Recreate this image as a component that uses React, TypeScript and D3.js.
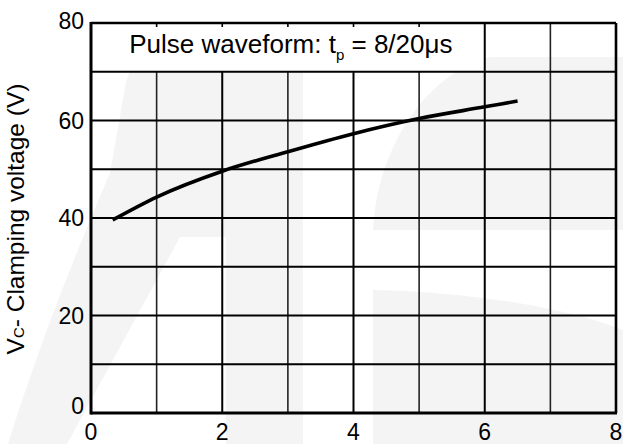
import React from 'react';
import * as d3 from 'd3';

// Data
const xValues = [0.33, 1, 2, 3, 4, 5, 6, 6.5];
const yValues = [39.6, 44.3, 49.6, 53.6, 57.3, 60.4, 62.8, 64.0];
const xTickLabels = [0, 2, 4, 6, 8];
const yTickLabels = [0, 20, 40, 60, 80];
const xGridValues = [1, 2, 3, 4, 5, 6, 7];
const yGridValues = [10, 20, 30, 40, 50, 60, 70];

// Decorative background watermark (pixel space)
const WATERMARK = [
  'M8 444 C35 360 60 290 110 173 L126 82 Q132 60 152 60 L303 60 L303 444 L226 444 L226 237 L180 237 L67 444 Z',
  'M373 230 C375 170 410 80 490 57 L623 57 L623 230 Z',
  'M373 290 C460 292 560 305 623 330 L623 444 L373 444 Z',
];

const W = 623;
const H = 444;
const M = { left: 91, right: 616, top: 23, bottom: 413 };
const FONT = '"Liberation Sans", Arial, Helvetica, sans-serif';

export default function App() {
  const x = d3.scaleLinear().domain([0, 8]).range([M.left, M.right]);
  const y = d3.scaleLinear().domain([0, 80]).range([M.bottom, M.top]);
  const pts: [number, number][] = xValues.map((v, i) => [v, yValues[i]]);
  const line = d3
    .line<[number, number]>()
    .x((d) => x(d[0]))
    .y((d) => y(d[1]))
    .curve(d3.curveMonotoneX);

  return (
    <svg
      width={W}
      height={H}
      style={{ position: 'absolute', left: 0, top: 0, background: '#fff' }}
      fontFamily={FONT}
    >
      <rect x={0} y={0} width={W} height={H} fill="#fff" />
      {WATERMARK.map((d, i) => (
        <path key={i} d={d} fill="#f4f4f4" />
      ))}
      {/* title box background */}
      <rect x={x(0)} y={y(80) + 3} width={x(6) - x(0)} height={y(70) - y(80) - 3} fill="#fff" />
      {/* vertical grid */}
      {xGridValues.map((v) => (
        <line
          key={'vx' + v}
          x1={x(v)}
          x2={x(v)}
          y1={v < 6 ? y(70) : y(80)}
          y2={y(0)}
          stroke={v % 2 === 1 ? '#222' : '#000'}
          strokeWidth={v % 2 === 1 ? 1.6 : 2}
        />
      ))}
      {xGridValues.filter((v) => v < 6).map((v) => (
        <line key={'tk' + v} x1={x(v)} x2={x(v)} y1={y(80)} y2={y(80) + 4} stroke="#000" strokeWidth={1.6} />
      ))}
      {/* horizontal grid */}
      {yGridValues.map((v) => (
        <line key={'hy' + v} x1={x(0)} x2={x(8)} y1={y(v)} y2={y(v)} stroke="#000" strokeWidth={2} />
      ))}
      {/* frame */}
      <line x1={x(0)} x2={x(8)} y1={y(80)} y2={y(80)} stroke="#000" strokeWidth={2.6} />
      <line x1={x(8)} x2={x(8)} y1={y(80)} y2={y(0)} stroke="#000" strokeWidth={2.6} />
      <line x1={x(0)} x2={x(8) + 1} y1={y(0)} y2={y(0)} stroke="#000" strokeWidth={3} />
      <line x1={x(0)} x2={x(0)} y1={y(80) - 1} y2={y(0) + 1.5} stroke="#000" strokeWidth={3} />
      {/* curve */}
      <path d={line(pts) || ''} fill="none" stroke="#000" strokeWidth={3.6} />
      {/* title */}
      <text x={x(3) + 3} y={53} textAnchor="middle" fontSize={26} fill="#000">
        Pulse waveform: t
        <tspan fontSize={15} dy={7}>p</tspan>
        <tspan dy={-7}> = 8/20μs</tspan>
      </text>
      {/* y tick labels */}
      {yTickLabels.map((v) => (
        <text
          key={'yl' + v}
          x={84}
          y={y(v) + 8 - (v === 0 ? 7 : v === 80 ? 2 : 0)}
          textAnchor="end"
          fontSize={23}
          fill="#000"
        >
          {v}
        </text>
      ))}
      {/* x tick labels */}
      {xTickLabels.map((v) => (
        <text key={'xl' + v} x={x(v)} y={440} textAnchor="middle" fontSize={23} fill="#000">
          {v}
        </text>
      ))}
      {/* y axis title */}
      <text transform={`translate(24, 219) rotate(-90)`} textAnchor="middle" fontSize={24.5} fill="#000">
        V<tspan fontSize={15}>C</tspan>- Clamping voltage (V)
      </text>
    </svg>
  );
}
